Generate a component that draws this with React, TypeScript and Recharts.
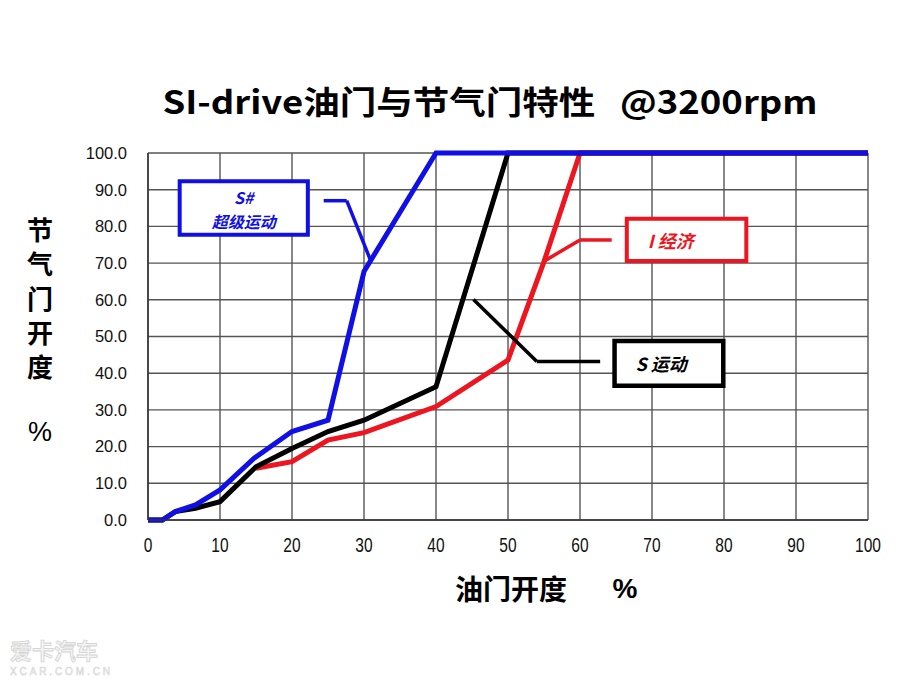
import { LineChart, Line, XAxis, YAxis, CartesianGrid, ReferenceArea, ReferenceLine, Customized } from 'recharts';

const xTicks = [0, 10, 20, 30, 40, 50, 60, 70, 80, 90, 100];
const yTicks = [0, 10, 20, 30, 40, 50, 60, 70, 80, 90, 100];

// [油门开度, 节气门开度]
const sharpPoints: [number, number][] = [
  [0, 0], [2, 0], [3.8, 2.3], [6.6, 4.1], [10, 8.2], [14.7, 16.8],
  [20, 24.1], [25, 27.2], [30, 67.7], [40, 100], [100, 100],
];
const sportPoints: [number, number][] = [
  [0, 0], [2, 0], [3.8, 2.3], [6.6, 3.2], [10, 5], [15, 14.5],
  [20, 19.5], [25, 24.1], [30, 27.2], [40, 36.3], [50, 100], [100, 100],
];
const ecoPoints: [number, number][] = [
  [15, 14.1], [20, 15.9], [25, 21.8], [30, 23.8], [40, 30.9],
  [50, 43.6], [55, 70.4], [60, 100], [100, 100],
];

const BLUE = '#1010e6';
const RED = '#ec1520';
const BLACK = '#000000';

const toRows = (pts: [number, number][]) => pts.map(([pedal, throttle]) => ({ pedal, throttle }));

// narrow, tall digits like the original x axis
const NarrowTick = ({ x, y, payload }: any) => (
  <text
    transform={`translate(${x},${y + 24}) scale(0.74,1)`}
    textAnchor="middle"
    fontSize={21}
    fill="#111"
    fontFamily="'Liberation Sans', sans-serif"
  >
    {payload.value}
  </text>
);

const BoxLabel = ({ viewBox, lines, color, align }: any) => {
  const { x, y, width, height } = viewBox;
  const common = {
    fill: color,
    fontFamily: "'Noto Sans CJK SC', sans-serif",
    fontWeight: 700,
    fontStyle: 'italic',
    fontSize: 18,
    dominantBaseline: 'central' as const,
  };
  if (lines.length === 2) {
    return (
      <g>
        <text {...common} fontSize={16} x={x + width / 2} y={y + height / 2 - 11} textAnchor="middle">{lines[0]}</text>
        <text {...common} fontSize={16} x={x + width / 2} y={y + height / 2 + 13} textAnchor="middle">{lines[1]}</text>
      </g>
    );
  }
  return (
    <text {...common} x={x + align} y={y + height / 2} textAnchor="start" style={{ whiteSpace: 'pre' }}>
      {lines[0]}
    </text>
  );
};

const Decor = () => {
  const cjk = "'Noto Sans CJK SC', sans-serif";
  const yChars = [
    { c: '节', y: 228 },
    { c: '气', y: 262 },
    { c: '门', y: 297 },
    { c: '开', y: 331 },
    { c: '度', y: 365 },
  ];
  return (
    <g>
      <text
        x={490}
        y={114}
        textAnchor="middle"
        fontSize={32}
        fontWeight={700}
        fontFamily={cjk}
        textLength={655}
        lengthAdjust="spacingAndGlyphs"
        fill="#000"
        style={{ whiteSpace: 'pre' }}
      >
        SI-drive油门与节气门特性   @3200rpm
      </text>
      {yChars.map((d) => (
        <text key={d.c} x={40} y={d.y} textAnchor="middle" dominantBaseline="central" fontSize={26} fontWeight={700} fontFamily={cjk} fill="#000">
          {d.c}
        </text>
      ))}
      <text x={40} y={432} textAnchor="middle" dominantBaseline="central" fontSize={27} fontFamily="'Liberation Sans', sans-serif" fill="#000">%</text>
      <text x={511} y={588} textAnchor="middle" dominantBaseline="central" fontSize={28} fontWeight={700} fontFamily={cjk} fill="#000">油门开度</text>
      <text x={625} y={588} textAnchor="middle" dominantBaseline="central" fontSize={28} fontWeight={700} fontFamily="'Liberation Sans', sans-serif" fill="#000">%</text>
      <text x={10} y={659} fontSize={22} fontWeight={700} fontFamily={cjk} fill="#f4f4f4" stroke="#d4d4d4" strokeWidth={0.8}>爱卡汽车</text>
      <text x={10} y={675} fontSize={10} fontFamily="'Liberation Sans', sans-serif" fill="#f4f4f4" stroke="#d4d4d4" strokeWidth={0.5} textLength={100}>XCAR.COM.CN</text>
    </g>
  );
};

const leader = { strokeWidth: 3.5, ifOverflow: 'visible' as const };

export default function App() {
  return (
    <div style={{ position: 'absolute', left: 0, top: 0, width: 908, height: 680, background: '#fff' }}>
      <LineChart width={908} height={680} margin={{ top: 153, right: 40, bottom: 130, left: 88 }}>
        <CartesianGrid stroke="#555" strokeWidth={1.4} />
        <XAxis
          type="number"
          dataKey="pedal"
          domain={[0, 100]}
          ticks={xTicks}
          tickLine={false}
          axisLine={{ stroke: '#333', strokeWidth: 1.5 }}
          height={30}
          tick={<NarrowTick />}
        />
        <YAxis
          type="number"
          domain={[0, 100]}
          ticks={yTicks}
          width={60}
          tickLine={false}
          axisLine={{ stroke: '#333', strokeWidth: 1.5 }}
          tickMargin={15}
          tickFormatter={(v: number) => v.toFixed(1)}
          tick={{ fontSize: 16.5, fill: '#111', fontFamily: "'Liberation Sans', sans-serif" }}
        />
        <Line data={toRows(ecoPoints)} dataKey="throttle" type="linear" stroke={RED} strokeWidth={5} dot={false} isAnimationActive={false} />
        <Line data={toRows(sportPoints)} dataKey="throttle" type="linear" stroke={BLACK} strokeWidth={5} dot={false} isAnimationActive={false} />
        <Line data={toRows(sharpPoints)} dataKey="throttle" type="linear" stroke={BLUE} strokeWidth={5} dot={false} isAnimationActive={false} />

        <ReferenceLine segment={[{ x: 24.4, y: 87 }, { x: 27.6, y: 87 }]} stroke={BLUE} {...leader} />
        <ReferenceLine segment={[{ x: 27.6, y: 87 }, { x: 30.9, y: 70.8 }]} stroke={BLUE} {...leader} />
        <ReferenceLine segment={[{ x: 54.9, y: 70.4 }, { x: 60, y: 76.3 }]} stroke={RED} {...leader} />
        <ReferenceLine segment={[{ x: 60, y: 76.3 }, { x: 64.4, y: 76.3 }]} stroke={RED} {...leader} />
        <ReferenceLine segment={[{ x: 45.2, y: 60.1 }, { x: 54, y: 43.2 }]} stroke={BLACK} {...leader} />
        <ReferenceLine segment={[{ x: 54, y: 43.2 }, { x: 62.8, y: 43.2 }]} stroke={BLACK} {...leader} />

        <ReferenceArea
          x1={4.4} x2={22.2} y1={77.7} y2={92.3}
          fill="#fff" fillOpacity={1} stroke={BLUE} strokeWidth={4} ifOverflow="visible"
          label={(p: any) => <BoxLabel {...p} lines={['S#', '超级运动']} color={BLUE} />}
        />
        <ReferenceArea
          x1={66.5} x2={83.1} y1={70.6} y2={82.1}
          fill="#fff" fillOpacity={1} stroke={RED} strokeWidth={4} ifOverflow="visible"
          label={(p: any) => <BoxLabel {...p} lines={['I 经济']} color={RED} align={21} />}
        />
        <ReferenceArea
          x1={64.8} x2={79.9} y1={36.6} y2={48.8}
          fill="#fff" fillOpacity={1} stroke={BLACK} strokeWidth={4.5} ifOverflow="visible"
          label={(p: any) => <BoxLabel {...p} lines={['S 运动']} color={BLACK} align={21} />}
        />
        <Customized component={<Decor />} />
      </LineChart>
    </div>
  );
}
